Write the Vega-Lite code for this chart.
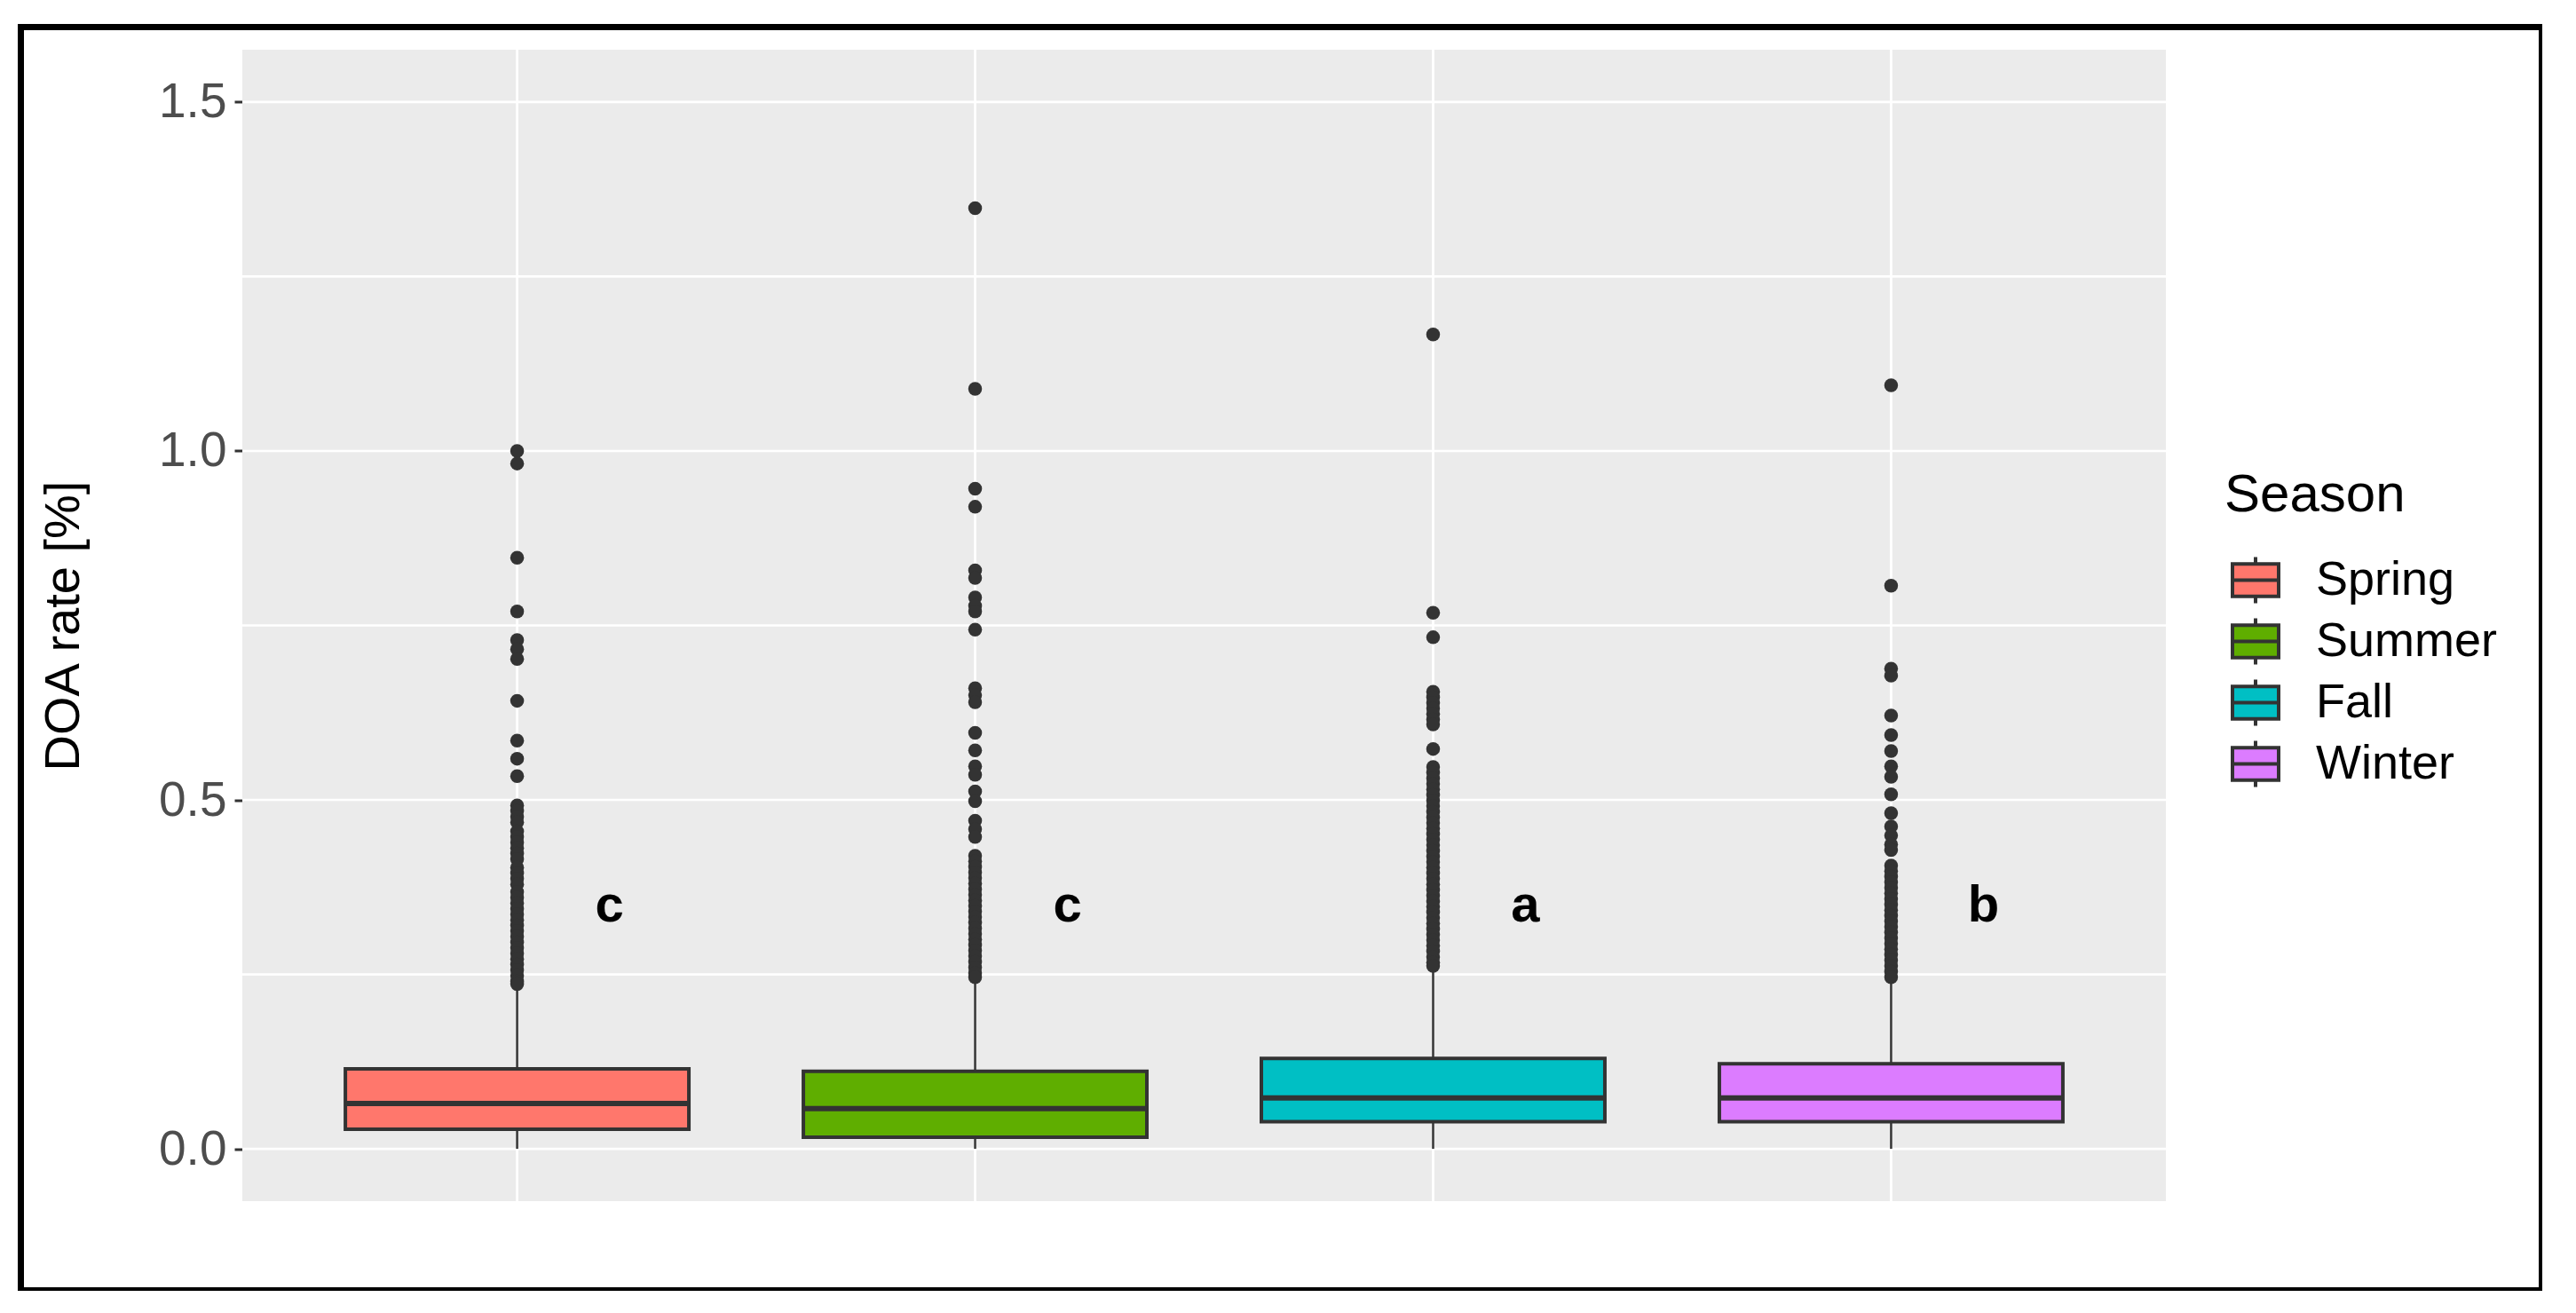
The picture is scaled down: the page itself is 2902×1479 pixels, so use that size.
{
  "$schema": "https://vega.github.io/schema/vega-lite/v6.json",
  "width": 2840,
  "height": 1423,
  "autosize": {"type": "none"},
  "padding": {"left": 23.5, "top": 30.5, "right": 0, "bottom": 0},
  "background": "white",
  "datasets": {
    "boxes": [
      {"Season": "Spring", "lower": 0.0, "q1": 0.028, "median": 0.065, "q3": 0.1145, "upper": 0.232},
      {"Season": "Summer", "lower": 0.0, "q1": 0.0165, "median": 0.0575, "q3": 0.111, "upper": 0.242},
      {"Season": "Fall", "lower": 0.0, "q1": 0.039, "median": 0.073, "q3": 0.1295, "upper": 0.258},
      {"Season": "Winter", "lower": 0.0, "q1": 0.039, "median": 0.073, "q3": 0.122, "upper": 0.242}
    ],
    "letters": [
      {"Season": "Spring", "letter": "c", "y": 0.326},
      {"Season": "Summer", "letter": "c", "y": 0.326},
      {"Season": "Fall", "letter": "a", "y": 0.326},
      {"Season": "Winter", "letter": "b", "y": 0.326}
    ],
    "ygrid": [{"v": 0}, {"v": 0.25}, {"v": 0.5}, {"v": 0.75}, {"v": 1.0}, {"v": 1.25}, {"v": 1.5}],
    "outliers": [
      {"Season": "Spring", "v": 1.0}, {"Season": "Spring", "v": 0.982}, {"Season": "Spring", "v": 0.847}, {"Season": "Spring", "v": 0.770},
      {"Season": "Spring", "v": 0.729}, {"Season": "Spring", "v": 0.716}, {"Season": "Spring", "v": 0.702}, {"Season": "Spring", "v": 0.642},
      {"Season": "Spring", "v": 0.585}, {"Season": "Spring", "v": 0.559}, {"Season": "Spring", "v": 0.534},
      {"Season": "Spring", "v": 0.492}, {"Season": "Spring", "v": 0.484}, {"Season": "Spring", "v": 0.476}, {"Season": "Spring", "v": 0.468},
      {"Season": "Spring", "v": 0.455}, {"Season": "Spring", "v": 0.447}, {"Season": "Spring", "v": 0.439}, {"Season": "Spring", "v": 0.431},
      {"Season": "Spring", "v": 0.423}, {"Season": "Spring", "v": 0.415}, {"Season": "Spring", "v": 0.403}, {"Season": "Spring", "v": 0.395},
      {"Season": "Spring", "v": 0.387}, {"Season": "Spring", "v": 0.379}, {"Season": "Spring", "v": 0.368}, {"Season": "Spring", "v": 0.360},
      {"Season": "Spring", "v": 0.352}, {"Season": "Spring", "v": 0.344}, {"Season": "Spring", "v": 0.336}, {"Season": "Spring", "v": 0.328},
      {"Season": "Spring", "v": 0.320}, {"Season": "Spring", "v": 0.312}, {"Season": "Spring", "v": 0.304}, {"Season": "Spring", "v": 0.296},
      {"Season": "Spring", "v": 0.288}, {"Season": "Spring", "v": 0.280}, {"Season": "Spring", "v": 0.272}, {"Season": "Spring", "v": 0.264},
      {"Season": "Spring", "v": 0.256}, {"Season": "Spring", "v": 0.248}, {"Season": "Spring", "v": 0.240}, {"Season": "Spring", "v": 0.236},
      {"Season": "Summer", "v": 1.348}, {"Season": "Summer", "v": 1.089}, {"Season": "Summer", "v": 0.946}, {"Season": "Summer", "v": 0.920},
      {"Season": "Summer", "v": 0.829}, {"Season": "Summer", "v": 0.818}, {"Season": "Summer", "v": 0.790}, {"Season": "Summer", "v": 0.778},
      {"Season": "Summer", "v": 0.770}, {"Season": "Summer", "v": 0.744}, {"Season": "Summer", "v": 0.660}, {"Season": "Summer", "v": 0.650},
      {"Season": "Summer", "v": 0.640}, {"Season": "Summer", "v": 0.596}, {"Season": "Summer", "v": 0.571}, {"Season": "Summer", "v": 0.548},
      {"Season": "Summer", "v": 0.536}, {"Season": "Summer", "v": 0.512}, {"Season": "Summer", "v": 0.498}, {"Season": "Summer", "v": 0.470},
      {"Season": "Summer", "v": 0.458}, {"Season": "Summer", "v": 0.447}, {"Season": "Summer", "v": 0.420}, {"Season": "Summer", "v": 0.412},
      {"Season": "Summer", "v": 0.404}, {"Season": "Summer", "v": 0.396}, {"Season": "Summer", "v": 0.388}, {"Season": "Summer", "v": 0.380},
      {"Season": "Summer", "v": 0.372}, {"Season": "Summer", "v": 0.364}, {"Season": "Summer", "v": 0.356}, {"Season": "Summer", "v": 0.348},
      {"Season": "Summer", "v": 0.340}, {"Season": "Summer", "v": 0.332}, {"Season": "Summer", "v": 0.324}, {"Season": "Summer", "v": 0.316},
      {"Season": "Summer", "v": 0.308}, {"Season": "Summer", "v": 0.300}, {"Season": "Summer", "v": 0.292}, {"Season": "Summer", "v": 0.284},
      {"Season": "Summer", "v": 0.276}, {"Season": "Summer", "v": 0.268}, {"Season": "Summer", "v": 0.260}, {"Season": "Summer", "v": 0.252},
      {"Season": "Summer", "v": 0.246},
      {"Season": "Fall", "v": 1.167}, {"Season": "Fall", "v": 0.768}, {"Season": "Fall", "v": 0.733}, {"Season": "Fall", "v": 0.655},
      {"Season": "Fall", "v": 0.647}, {"Season": "Fall", "v": 0.639}, {"Season": "Fall", "v": 0.631}, {"Season": "Fall", "v": 0.623},
      {"Season": "Fall", "v": 0.615}, {"Season": "Fall", "v": 0.608}, {"Season": "Fall", "v": 0.573}, {"Season": "Fall", "v": 0.547},
      {"Season": "Fall", "v": 0.539}, {"Season": "Fall", "v": 0.531}, {"Season": "Fall", "v": 0.523}, {"Season": "Fall", "v": 0.515},
      {"Season": "Fall", "v": 0.507}, {"Season": "Fall", "v": 0.499}, {"Season": "Fall", "v": 0.491}, {"Season": "Fall", "v": 0.483},
      {"Season": "Fall", "v": 0.475}, {"Season": "Fall", "v": 0.467}, {"Season": "Fall", "v": 0.459}, {"Season": "Fall", "v": 0.451},
      {"Season": "Fall", "v": 0.443}, {"Season": "Fall", "v": 0.435}, {"Season": "Fall", "v": 0.427}, {"Season": "Fall", "v": 0.419},
      {"Season": "Fall", "v": 0.411}, {"Season": "Fall", "v": 0.403}, {"Season": "Fall", "v": 0.395}, {"Season": "Fall", "v": 0.387},
      {"Season": "Fall", "v": 0.379}, {"Season": "Fall", "v": 0.371}, {"Season": "Fall", "v": 0.363}, {"Season": "Fall", "v": 0.355},
      {"Season": "Fall", "v": 0.347}, {"Season": "Fall", "v": 0.339}, {"Season": "Fall", "v": 0.331}, {"Season": "Fall", "v": 0.323},
      {"Season": "Fall", "v": 0.315}, {"Season": "Fall", "v": 0.307}, {"Season": "Fall", "v": 0.299}, {"Season": "Fall", "v": 0.291},
      {"Season": "Fall", "v": 0.283}, {"Season": "Fall", "v": 0.275}, {"Season": "Fall", "v": 0.267}, {"Season": "Fall", "v": 0.262},
      {"Season": "Winter", "v": 1.094}, {"Season": "Winter", "v": 0.807}, {"Season": "Winter", "v": 0.688}, {"Season": "Winter", "v": 0.678},
      {"Season": "Winter", "v": 0.621}, {"Season": "Winter", "v": 0.593}, {"Season": "Winter", "v": 0.570}, {"Season": "Winter", "v": 0.548},
      {"Season": "Winter", "v": 0.533}, {"Season": "Winter", "v": 0.508}, {"Season": "Winter", "v": 0.481}, {"Season": "Winter", "v": 0.462},
      {"Season": "Winter", "v": 0.449}, {"Season": "Winter", "v": 0.436}, {"Season": "Winter", "v": 0.428}, {"Season": "Winter", "v": 0.406},
      {"Season": "Winter", "v": 0.398}, {"Season": "Winter", "v": 0.390}, {"Season": "Winter", "v": 0.382}, {"Season": "Winter", "v": 0.374},
      {"Season": "Winter", "v": 0.366}, {"Season": "Winter", "v": 0.358}, {"Season": "Winter", "v": 0.350}, {"Season": "Winter", "v": 0.342},
      {"Season": "Winter", "v": 0.334}, {"Season": "Winter", "v": 0.326}, {"Season": "Winter", "v": 0.318}, {"Season": "Winter", "v": 0.310},
      {"Season": "Winter", "v": 0.302}, {"Season": "Winter", "v": 0.294}, {"Season": "Winter", "v": 0.286}, {"Season": "Winter", "v": 0.278},
      {"Season": "Winter", "v": 0.270}, {"Season": "Winter", "v": 0.262}, {"Season": "Winter", "v": 0.254}, {"Season": "Winter", "v": 0.246}
    ]
  },
  "resolve": {"scale": {"x": "independent"}},
  "layer": [
    {
      "layer": [
        {
          "data": {"values": [{"panel": "bg"}]},
          "mark": {"type": "rect", "color": "#EBEBEB"},
          "encoding": {
            "x": {"datum": 0, "type": "quantitative", "scale": {"domain": [0, 1], "range": [249.5, 2416.5]}, "axis": null},
            "x2": {"datum": 1},
            "y": {"datum": -0.075, "type": "quantitative", "title": "DOA rate [%]",
                  "scale": {"domain": [-0.075, 1.575], "range": [1322.5, 25.5], "nice": false, "zero": false},
                  "axis": {
                    "values": [0, 0.5, 1.0, 1.5], "format": ".1f", "grid": false, "domain": false,
                    "offset": -249.5,
                    "tickSize": 9, "tickColor": "#333333", "tickWidth": 3,
                    "labelFontSize": 55, "labelFont": "Liberation Sans", "labelColor": "#4D4D4D", "labelPadding": 9,
                    "titleFontSize": 56, "titleFont": "Liberation Sans", "titleFontWeight": "normal", "titleColor": "black", "titlePadding": 78
                  }},
            "y2": {"datum": 1.575}
          }
        },
        {
          "data": {"name": "ygrid"},
          "mark": {"type": "rule", "color": "white", "strokeWidth": 2.7},
          "encoding": {
            "x": {"datum": 0, "type": "quantitative", "axis": null},
            "x2": {"datum": 1},
            "y": {"field": "v", "type": "quantitative", "title": "DOA rate [%]"}
          }
        }
      ]
    },
    {
      "layer": [
        {
          "data": {"name": "boxes"},
          "mark": {"type": "rule", "color": "white", "strokeWidth": 2.7},
          "encoding": {
            "x": {"field": "Season", "type": "nominal", "axis": null,
                  "scale": {"type": "band", "domain": ["Spring", "Summer", "Fall", "Winter"], "range": [249.5, 2416.5], "paddingInner": 0.25, "paddingOuter": 0.225}},
            "y": {"datum": -0.075, "type": "quantitative", "title": "DOA rate [%]"},
            "y2": {"datum": 1.575}
          }
        },
        {
          "data": {"name": "boxes"},
          "mark": {"type": "rule", "color": "#333333", "strokeWidth": 2.5},
          "encoding": {
            "x": {"field": "Season", "type": "nominal", "axis": null},
            "y": {"field": "lower", "type": "quantitative", "title": "DOA rate [%]"},
            "y2": {"field": "upper"}
          }
        },
        {
          "data": {"name": "boxes"},
          "mark": {"type": "bar", "stroke": "#333333", "strokeWidth": 4, "opacity": 1},
          "encoding": {
            "x": {"field": "Season", "type": "nominal", "axis": null},
            "y": {"field": "q1", "type": "quantitative", "title": "DOA rate [%]"},
            "y2": {"field": "q3"},
            "fill": {
              "field": "Season", "type": "nominal", "title": "Season",
              "scale": {"domain": ["Spring", "Summer", "Fall", "Winter"], "range": ["#FF776C", "#5FAE00", "#00BFC4", "#DC7CFF"]},
              "legend": {
                "orient": "none", "legendX": 2482.5, "legendY": 498,
                "symbolType": "M-1,-0.7L1,-0.7L1,0.7L-1,0.7Z M-1,0L1,0 M0,-0.7L0,-1 M0,0.7L0,1",
                "symbolSize": 2704, "symbolStrokeColor": "#333333", "symbolStrokeWidth": 4, "symbolOpacity": 1,
                "symbolOffset": 7,
                "titleFontSize": 60, "titleFont": "Liberation Sans", "titleFontWeight": "normal", "titleColor": "black",
                "titlePadding": 37, "titleLimit": 500,
                "labelFontSize": 54, "labelFont": "Liberation Sans", "labelColor": "black", "labelOffset": 40, "labelLimit": 500,
                "rowPadding": 1, "padding": 0
              }
            }
          }
        },
        {
          "data": {"name": "boxes"},
          "mark": {"type": "rule", "color": "#333333", "strokeWidth": 6},
          "encoding": {
            "x": {"field": "Season", "type": "nominal", "axis": null, "bandPosition": 0},
            "x2": {"field": "Season", "bandPosition": 1},
            "y": {"field": "median", "type": "quantitative", "title": "DOA rate [%]"}
          }
        },
        {
          "data": {"name": "outliers"},
          "mark": {"type": "point", "filled": true, "color": "#333333", "opacity": 1, "size": 240, "shape": "circle"},
          "encoding": {
            "x": {"field": "Season", "type": "nominal", "axis": null},
            "y": {"field": "v", "type": "quantitative", "title": "DOA rate [%]"}
          }
        },
        {
          "data": {"name": "letters"},
          "mark": {"type": "text", "dx": 104, "fontSize": 58, "fontWeight": "bold", "font": "Liberation Sans", "color": "black", "baseline": "alphabetic", "align": "center"},
          "encoding": {
            "x": {"field": "Season", "type": "nominal", "axis": null},
            "y": {"field": "y", "type": "quantitative", "title": "DOA rate [%]"},
            "text": {"field": "letter"}
          }
        }
      ]
    }
  ],
  "config": {
    "view": {"stroke": "black", "strokeWidth": 7, "fill": "white"}
  }
}
